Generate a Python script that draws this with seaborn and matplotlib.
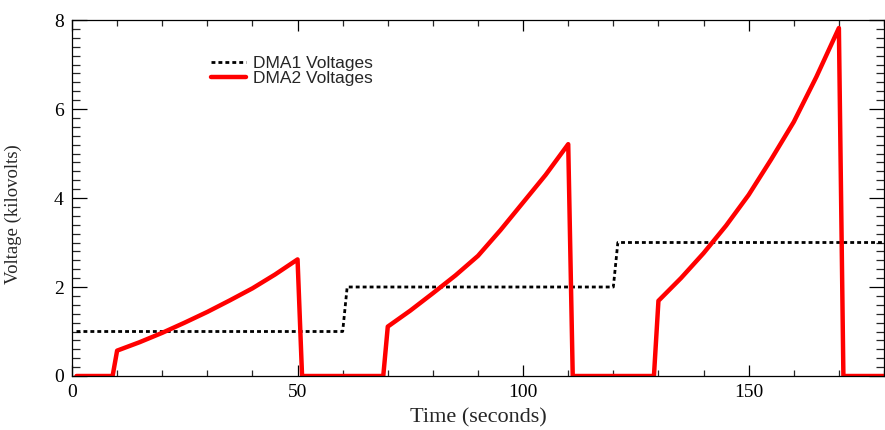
import matplotlib
matplotlib.use("Agg")
import matplotlib.pyplot as plt
import seaborn as sns
import pandas as pd
from matplotlib.ticker import MultipleLocator

# ---- data ----
dma1_time = [1, 60, 61, 120, 121, 180]
dma1_volt = [1.0, 1.0, 2.0, 2.0, 3.0, 3.0]

dma2_time = [1, 9,
             10, 15, 20, 25, 30, 35, 40, 45, 50,
             51, 69,
             70, 75, 80, 85, 90, 95, 100, 105, 110,
             111, 129,
             130, 135, 140, 145, 150, 155, 160, 165, 170,
             171, 180]
dma2_volt = [0.0, 0.0,
             0.57, 0.76, 0.97, 1.20, 1.44, 1.70, 1.97, 2.28, 2.62,
             0.0, 0.0,
             1.11, 1.47, 1.86, 2.26, 2.70, 3.28, 3.90, 4.52, 5.21,
             0.0, 0.0,
             1.69, 2.20, 2.76, 3.38, 4.07, 4.87, 5.71, 6.72, 7.82,
             0.0, 0.0]

series_labels = ["DMA1 Voltages", "DMA2 Voltages"]
x_label = "Time (seconds)"
y_label = "Voltage (kilovolts)"

sns.set_style("ticks")
plt.rcParams["font.family"] = ["Liberation Serif", "DejaVu Serif"]

fig = plt.figure(figsize=(8.85, 4.30), dpi=100)
ax = fig.add_axes([72 / 885, 1 - 376 / 430, 812 / 885, 356 / 430])

df1 = pd.DataFrame({"t": dma1_time, "v": dma1_volt})
df2 = pd.DataFrame({"t": dma2_time, "v": dma2_volt})

sns.lineplot(data=df1, x="t", y="v", ax=ax, color="black", linewidth=2.0,
             linestyle=(0, (1.4, 1.1)), estimator=None, sort=False,
             label=series_labels[0])
sns.lineplot(data=df2, x="t", y="v", ax=ax, color="#ff0000", linewidth=3.2,
             estimator=None, sort=False, label=series_labels[1])

ax.set_xlim(0, 180)
ax.set_ylim(0, 8)
ax.xaxis.set_major_locator(MultipleLocator(50))
ax.xaxis.set_minor_locator(MultipleLocator(10))
ax.yaxis.set_major_locator(MultipleLocator(2))
ax.yaxis.set_minor_locator(MultipleLocator(0.2))

for s in ax.spines.values():
    s.set_visible(True)
    s.set_linewidth(0.9)
    s.set_color("black")

ax.tick_params(axis="x", which="major", direction="in", length=8, width=0.9,
               top=True, bottom=True, labelsize=14, pad=6, colors="black")
ax.tick_params(axis="x", which="minor", direction="in", length=4, width=0.9,
               top=True, bottom=True)
ax.tick_params(axis="y", which="major", direction="in", length=11, width=0.9,
               left=True, right=True, labelsize=14, pad=6, colors="black")
ax.tick_params(axis="y", which="minor", direction="in", length=6, width=0.9,
               left=True, right=True)

ax.set_xlabel(x_label, fontsize=16, labelpad=5)
ax.set_ylabel(y_label, fontsize=13.5, labelpad=14)
ax.yaxis.set_label_coords(-0.062, 0.455)

leg = ax.legend(loc="upper left", bbox_to_anchor=(0.171, 0.90),
                frameon=False, borderaxespad=0, borderpad=0,
                handlelength=2.0, handletextpad=0.4, labelspacing=0.0,
                prop={"family": ["Liberation Sans", "DejaVu Sans"], "size": 12.5})

fig.savefig("out.png", dpi=100)
